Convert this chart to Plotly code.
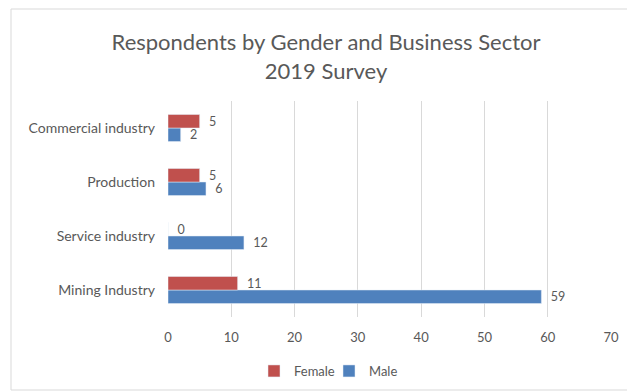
import plotly.graph_objects as go

# Business sectors, listed bottom-to-top as drawn on the category axis
sectors = ["Mining Industry", "Service industry", "Production", "Commercial industry"]
female = [11, 0, 5, 5]
male = [59, 12, 6, 2]
x_ticks = [0, 10, 20, 30, 40, 50, 60, 70]

RED = "#C0504D"
BLUE = "#4F81BD"
TEXT = "#595959"
FONT = "Lato, 'Open Sans', sans-serif"

label_font = dict(color=TEXT, size=12.5, family=FONT)

fig = go.Figure()
fig.add_trace(go.Bar(
    y=sectors, x=male, name="Male", orientation="h",
    marker_color=BLUE, text=male, texttemplate="  %{x}", textposition="outside",
    textfont=label_font, constraintext="none", cliponaxis=False, legendrank=2,
))
fig.add_trace(go.Bar(
    y=sectors, x=female, name="Female", orientation="h",
    marker_color=RED, text=female, texttemplate="  %{x}", textposition="outside",
    textfont=label_font, constraintext="none", cliponaxis=False, legendrank=1,
))

# plot area: 443 x 216 px starting at (168, 101)
PW, PH, PL, PT = 443, 216, 168, 101

fig.update_layout(
    width=627, height=392,
    margin=dict(l=PL, r=627 - PL - PW, t=PT, b=392 - PT - PH, autoexpand=False),
    paper_bgcolor="white", plot_bgcolor="white",
    barmode="group", bargap=0.5, bargroupgap=0,
    font=dict(family=FONT, color=TEXT, size=14),
    title=dict(
        text="Respondents by Gender and Business Sector<br>2019 Survey",
        x=0.52, xanchor="center", yref="container", y=1 - 50 / 392, yanchor="middle",
        font=dict(size=22, color=TEXT, family=FONT),
    ),
    xaxis=dict(
        range=[0, 70], tickvals=x_ticks, showgrid=True, gridcolor="#D9D9D9",
        gridwidth=1, zeroline=False, showline=False, ticks="",
        tickfont=dict(size=13, color=TEXT), ticklabelstandoff=11,
    ),
    yaxis=dict(
        categoryorder="array", categoryarray=sectors, showgrid=False,
        showline=False, ticks="", tickfont=dict(size=14, color=TEXT),
        ticklabelstandoff=12,
    ),
    legend=dict(
        orientation="h", x=(254 - PL) / PW, xanchor="left",
        y=(PT + PH - 356) / PH, yanchor="top",
        font=dict(size=13, color=TEXT), itemwidth=30, entrywidth=30,
        tracegroupgap=0,
    ),
    shapes=[dict(
        type="rect", xref="paper", yref="paper",
        x0=(11 - PL) / PW, x1=(640 - PL) / PW,
        y0=(PT + PH - 390) / PH, y1=(PT + PH - 9) / PH,
        line=dict(color="#D9D9D9", width=1), layer="below",
    )],
)

fig.write_html("out.html")
